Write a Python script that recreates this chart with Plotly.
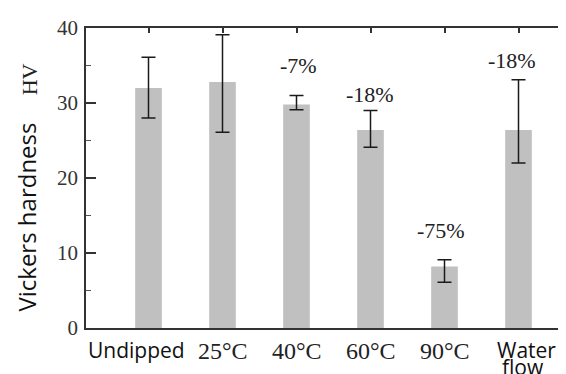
import plotly.graph_objects as go

categories = ["Undipped", "25°C", "40°C", "60°C", "90°C", "Water flow"]
hardness = [32.0, 32.8, 29.8, 26.4, 8.2, 26.4]
err_plus = [4.1, 6.3, 1.2, 2.6, 0.9, 6.7]
err_minus = [4.0, 6.7, 0.7, 2.3, 2.1, 4.4]
change_labels = ["", "", "-7%", "-18%", "-75%", "-18%"]
label_y = [None, None, 35.0, 31.2, 13.0, 35.7]
label_dx = [0, 0, 2, -1, -4, -7]
ytick_vals = [0, 10, 20, 30, 40]

SERIF = "Liberation Serif"
SANS = "Open Sans"

fig = go.Figure()
fig.add_trace(go.Bar(
    x=categories, y=hardness,
    marker=dict(color="#c0c0c0", line=dict(width=0)),
    error_y=dict(type="data", symmetric=False, array=err_plus, arrayminus=err_minus,
                 color="#1a1a1a", thickness=1.5, width=7),
    width=0.36, showlegend=False, hoverinfo="skip",
))
# invisible trace to anchor top / right mirror axes
fig.add_trace(go.Scatter(x=categories, y=hardness, xaxis="x2", yaxis="y2", mode="markers",
                         marker=dict(opacity=0), showlegend=False, hoverinfo="skip"))

annotations = []
for c, t, yy, dx in zip(categories, change_labels, label_y, label_dx):
    if t:
        annotations.append(dict(x=c, y=yy, xref="x", yref="y", text=t, showarrow=False,
                                xshift=dx, font=dict(family=SERIF, size=22, color="#222")))
# category labels
for c in categories:
    if c == "Water flow":
        annotations.append(dict(x=c, y=-0.072, xref="x", yref="paper", text="Water",
                                showarrow=False, xshift=8, yanchor="middle",
                                font=dict(family=SANS, size=21, color="#111")))
        annotations.append(dict(x=c, y=-0.13, xref="x", yref="paper", text="flow",
                                showarrow=False, xshift=4, yanchor="middle",
                                font=dict(family=SANS, size=21, color="#111")))
    elif c == "Undipped":
        annotations.append(dict(x=c, y=-0.072, xref="x", yref="paper", text=c,
                                showarrow=False, xshift=-12, yanchor="middle",
                                font=dict(family=SANS, size=21, color="#111")))
    else:
        annotations.append(dict(x=c, y=-0.077, xref="x", yref="paper", text=c,
                                showarrow=False, yanchor="middle",
                                font=dict(family=SERIF, size=24, color="#222")))
# y-axis title parts
annotations.append(dict(x=-0.128, y=0.37, xref="paper", yref="paper", text="Vickers hardness",
                        textangle=-90, showarrow=False, xanchor="center", yanchor="middle",
                        font=dict(family=SANS, size=24, color="#111")))
annotations.append(dict(x=-0.12, y=0.83, xref="paper", yref="paper", text="HV",
                        textangle=-90, showarrow=False, xanchor="center", yanchor="middle",
                        font=dict(family=SERIF, size=22, color="#222")))

# the page shows the figure 8 px in from the top-left corner, so size it to fit the window
fig.update_layout(
    width=558, height=366,
    margin=dict(l=78, r=8, t=16, b=46),
    paper_bgcolor="white", plot_bgcolor="white",
    bargap=0.64,
    xaxis=dict(type="category", categoryorder="array", categoryarray=categories,
               showticklabels=False, ticks="", showline=True, linecolor="#333",
               linewidth=1.5, showgrid=False, zeroline=False),
    xaxis2=dict(type="category", categoryorder="array", categoryarray=categories,
                overlaying="x", side="top", matches="x", showticklabels=False,
                ticks="inside", ticklen=5, tickcolor="#333", tickwidth=1.5,
                showline=True, linecolor="#333", linewidth=1.5, showgrid=False),
    yaxis=dict(range=[0, 40], tickvals=ytick_vals, ticks="inside", ticklen=10,
               tickwidth=1.5, tickcolor="#333", showline=True, linecolor="#333",
               linewidth=1.5, showgrid=False, zeroline=False,
               tickfont=dict(family=SERIF, size=21, color="#333"),
               ticklabelstandoff=2,
               minor=dict(dtick=5, tick0=0, ticks="inside", ticklen=5, tickcolor="#555",
                          tickwidth=1, showgrid=False)),
    yaxis2=dict(range=[0, 40], overlaying="y", side="right", matches="y",
                showticklabels=False, showline=True, linecolor="#999", linewidth=1.5,
                ticks="", showgrid=False, zeroline=False),
    annotations=annotations,
)

fig.write_html("out.html")
